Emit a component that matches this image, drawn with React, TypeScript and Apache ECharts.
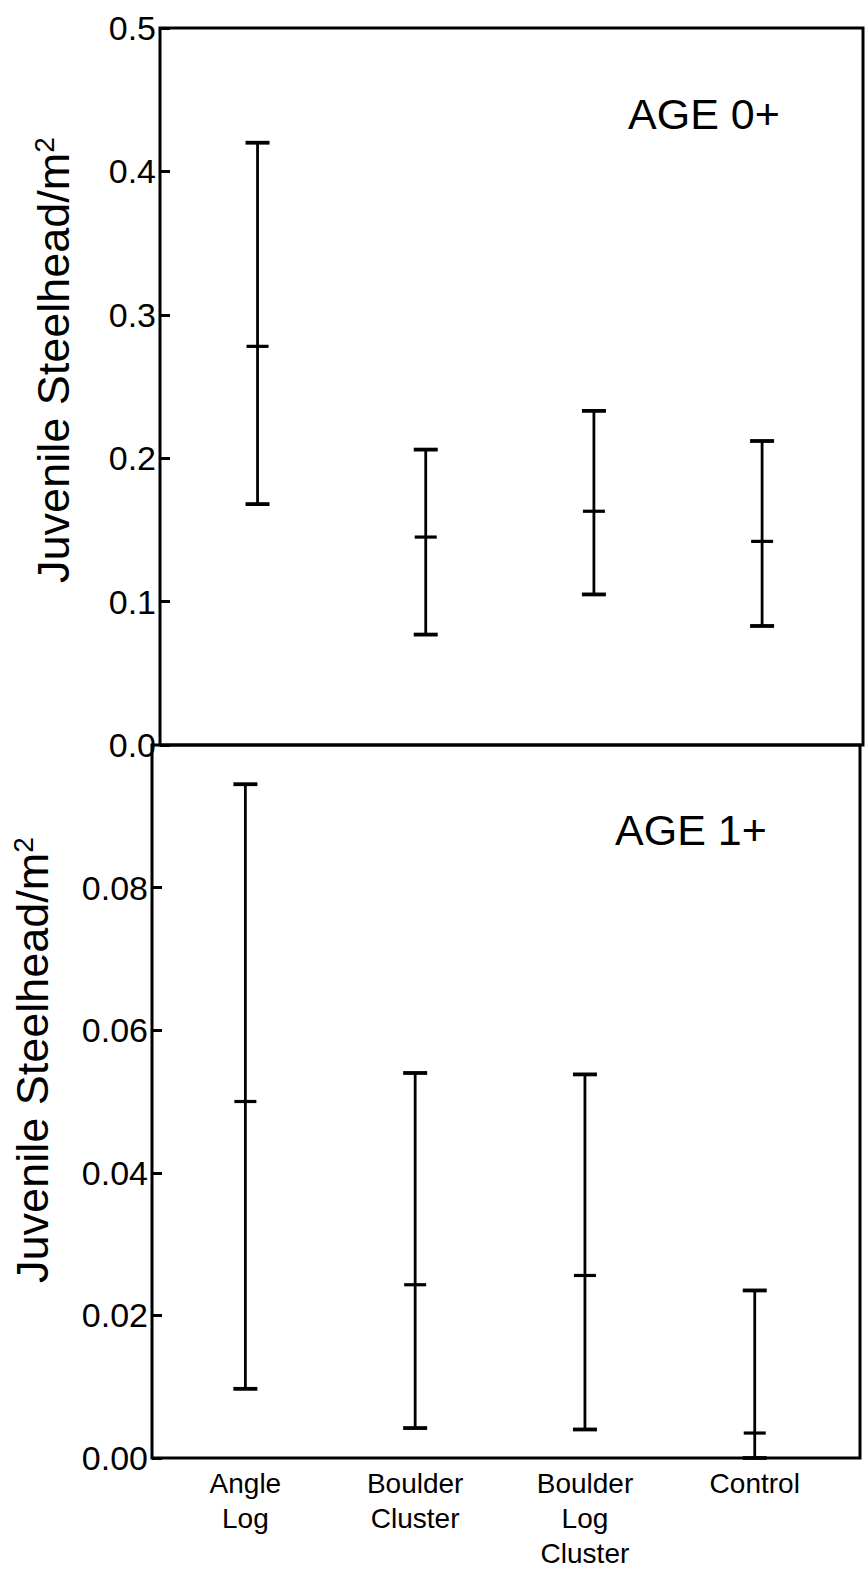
import React, { useEffect, useRef } from "react";
import * as echarts from "echarts";

const categories = ["Angle\nLog", "Boulder\nCluster", "Boulder\nLog\nCluster", "Control"];

// AGE 0+ panel (juvenile steelhead per m²)
const age0Upper = [0.42, 0.206, 0.233, 0.212];
const age0Mean = [0.278, 0.145, 0.163, 0.142];
const age0Lower = [0.168, 0.077, 0.105, 0.083];

// AGE 1+ panel
const age1Upper = [0.0945, 0.054, 0.0538, 0.0235];
const age1Mean = [0.05, 0.0243, 0.0256, 0.0035];
const age1Lower = [0.0097, 0.0042, 0.004, 0.0];

const age0Ticks = [0, 0.1, 0.2, 0.3, 0.4, 0.5];
const age1Ticks = [0, 0.02, 0.04, 0.06, 0.08];

const FONT = '"Liberation Sans", Arial, Helvetica, sans-serif';

function build(upper: number[], mean: number[], lower: number[]) {
  return categories.map((_, i) => [i + 1, upper[i], mean[i], lower[i]]);
}

function renderErrorBar(params: any, api: any) {
  const x = api.value(0);
  const hi = api.coord([x, api.value(1)]);
  const mid = api.coord([x, api.value(2)]);
  const lo = api.coord([x, api.value(3)]);
  const cap = 12;
  const stroke = { stroke: "#000", lineWidth: 3.2 };
  return {
    type: "group",
    children: [
      { type: "line", shape: { x1: hi[0], y1: hi[1], x2: lo[0], y2: lo[1] }, style: { stroke: "#000", lineWidth: 2.8 } },
      { type: "line", shape: { x1: hi[0] - cap, y1: hi[1], x2: hi[0] + cap, y2: hi[1] }, style: { ...stroke, lineWidth: 3.8 } },
      { type: "line", shape: { x1: lo[0] - cap, y1: lo[1], x2: lo[0] + cap, y2: lo[1] }, style: { ...stroke, lineWidth: 3.8 } },
      { type: "line", shape: { x1: mid[0] - 11, y1: mid[1], x2: mid[0] + 11, y2: mid[1] }, style: stroke },
    ],
  };
}

export default function App() {
  const ref = useRef<HTMLDivElement>(null);

  useEffect(() => {
    if (!ref.current) return;
    const chart = echarts.init(ref.current, null, { renderer: "svg" });

    const yTick = { show: true, inside: true, length: 10, lineStyle: { color: "#000", width: 3 } };
    const yLabel = { color: "#000", fontSize: 34, fontFamily: FONT, margin: 4 };

    const nameStyle = {
      text: "{n|Juvenile Steelhead/m}{s|2}", fill: "#000", align: "center", verticalAlign: "middle",
      rich: {
        n: { fontSize: 45, fontFamily: FONT, fill: "#000" },
        s: { fontSize: 28, fontFamily: FONT, fill: "#000", verticalAlign: "top", padding: [0, 0, 14, 0] },
      },
    };

    chart.setOption({
      animation: false,
      backgroundColor: "#fff",
      grid: [
        { left: 160, top: 28, width: 703, height: 717, show: true, borderColor: "#000", borderWidth: 3, backgroundColor: "transparent" },
        { left: 152, top: 745, width: 708, height: 714, show: true, borderColor: "#000", borderWidth: 3, backgroundColor: "transparent" },
      ],
      xAxis: [
        {
          type: "value", gridIndex: 0, min: 0.42, max: 4.6,
          axisLine: { show: false }, axisTick: { show: false }, axisLabel: { show: false }, splitLine: { show: false },
        },
        {
          type: "value", gridIndex: 1, min: 0.45, max: 4.62,
          axisLine: { show: false }, axisTick: { show: false }, splitLine: { show: false },
          axisLabel: {
            show: true,
            customValues: [1, 2, 3, 4],
            formatter: (v: number) => categories[Math.round(v) - 1] ?? "",
            color: "#000", fontSize: 28, fontFamily: FONT, lineHeight: 35, margin: 8,
          },
        },
      ],
      yAxis: [
        {
          type: "value", gridIndex: 0, min: 0, max: 0.5, interval: 0.1,
          axisLine: { show: false }, axisTick: yTick, splitLine: { show: false },
          axisLabel: { ...yLabel, customValues: age0Ticks, formatter: (v: number) => v.toFixed(1) },
        },
        {
          type: "value", gridIndex: 1, min: 0, max: 0.1, interval: 0.02,
          axisLine: { show: false }, splitLine: { show: false },
          axisTick: { ...yTick, customValues: age1Ticks },
          axisLabel: { ...yLabel, customValues: age1Ticks, formatter: (v: number) => v.toFixed(2) },
        },
      ],
      series: [
        {
          type: "custom", xAxisIndex: 0, yAxisIndex: 0,
          renderItem: renderErrorBar,
          encode: { x: 0, y: [1, 2, 3] },
          data: build(age0Upper, age0Mean, age0Lower),
          clip: false,
        },
        {
          type: "custom", xAxisIndex: 1, yAxisIndex: 1,
          renderItem: renderErrorBar,
          encode: { x: 0, y: [1, 2, 3] },
          data: build(age1Upper, age1Mean, age1Lower),
          clip: false,
        },
      ],
      graphic: [
        {
          type: "text", x: 628, y: 114,
          style: { text: "AGE 0+", fill: "#000", font: `43px ${FONT}`, verticalAlign: "middle", align: "left" },
        },
        {
          type: "text", x: 615, y: 830,
          style: { text: "AGE 1+", fill: "#000", font: `43px ${FONT}`, verticalAlign: "middle", align: "left" },
        },
        { type: "text", x: 53, y: 360, rotation: Math.PI / 2, style: nameStyle },
        { type: "text", x: 32, y: 1060, rotation: Math.PI / 2, style: nameStyle },
      ],
    });

    return () => chart.dispose();
  }, []);

  return (
    <div
      ref={ref}
      style={{ position: "fixed", left: 0, top: 0, width: 865, height: 1571, background: "#fff" }}
    />
  );
}
